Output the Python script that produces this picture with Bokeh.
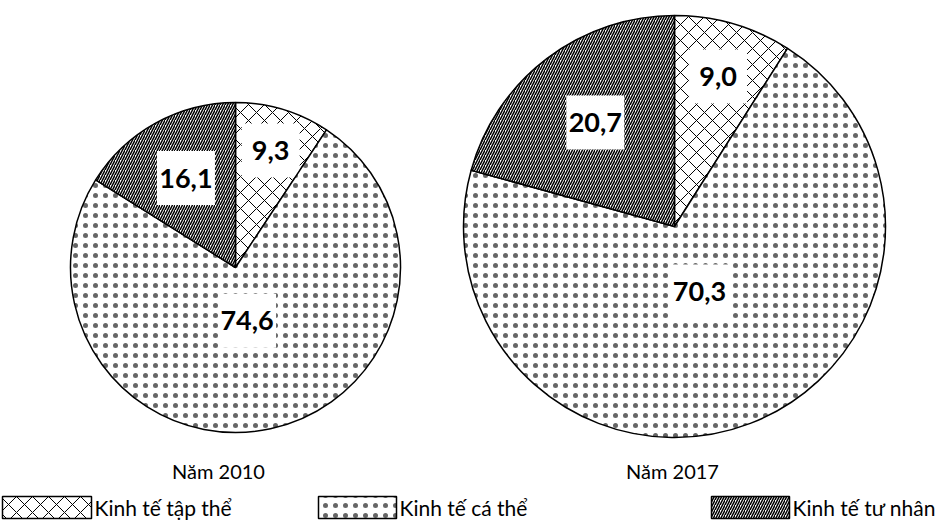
import math
from bokeh.plotting import figure
from bokeh.models import Range1d
from bokeh.core.properties import value
from bokeh.embed import file_html
from bokeh.resources import INLINE

# ---------------- data ----------------
categories = ["Kinh tế tập thể", "Kinh tế cá thể", "Kinh tế tư nhân"]
years = ["Năm 2010", "Năm 2017"]
values_2010 = [9.3, 74.6, 16.1]
values_2017 = [9.0, 70.3, 20.7]

# ---------------- layout / style ----------------
W, H = 941, 529
def fy(Y):  # screenshot pixel Y -> data y
    return H - Y

pies = [
    dict(vals=values_2010, cx=235, cy=267, r=165, title=years[0], tx=218, ty=470),
    dict(vals=values_2017, cx=674, cy=226, r=211, title=years[1], tx=672, ty=470),
]
hatch = [
    dict(hatch_pattern="diagonal_cross", hatch_scale=16, hatch_weight=1.0),
    dict(hatch_pattern="dot", hatch_scale=10, hatch_weight=1.0, hatch_alpha=0.6),
    dict(hatch_pattern="right_diagonal_line", hatch_scale=5, hatch_weight=1.5),
]
label_r = [0.74, 0.33, 0.62]
box_w, box_h = 58, 54
FONT = value("Lato")

p = figure(width=W, height=H, output_backend="svg", toolbar_location=None,
           x_range=Range1d(0, W), y_range=Range1d(0, H),
           min_border=0, outline_line_color=None)
p.axis.visible = False
p.grid.visible = False
p.background_fill_color = "white"

for pie in pies:
    vals = pie["vals"]
    total = sum(vals)
    cum = 0.0
    cx, cy = pie["cx"], fy(pie["cy"])
    for i, v in enumerate(vals):
        a0 = math.pi / 2 - 2 * math.pi * cum / total
        a1 = math.pi / 2 - 2 * math.pi * (cum + v) / total
        p.wedge(x=[cx], y=[cy], radius=pie["r"], start_angle=[a0], end_angle=[a1],
                direction="clock", fill_color="white", line_color="black",
                line_width=1.5, hatch_color="black", **hatch[i])
        mid = (a0 + a1) / 2
        lx = cx + label_r[i] * pie["r"] * math.cos(mid)
        ly = cy + label_r[i] * pie["r"] * math.sin(mid)
        p.rect(x=[lx], y=[ly], width=box_w, height=box_h, fill_color="white", line_color=None)
        p.text(x=[lx], y=[ly], text=[f"{v:.1f}".replace(".", ",")], text_font=FONT,
               text_font_size="27px", text_font_style="bold", text_color="black",
               text_align="center", text_baseline="middle")
        cum += v
    p.text(x=[pie["tx"]], y=[fy(pie["ty"])], text=[pie["title"]], text_font=FONT,
           text_font_size="20px", text_color="black", text_align="center",
           text_baseline="middle")

# legend
leg_x = [2, 318, 711]
sw_w = [89, 78, 78]
leg_y = 507
sw_h = 22
for i, name in enumerate(categories):
    p.rect(x=[leg_x[i] + sw_w[i] / 2], y=[fy(leg_y)], width=sw_w[i], height=sw_h,
           fill_color="white", line_color="black", line_width=1.5,
           hatch_color="black", **hatch[i])
    p.text(x=[leg_x[i] + sw_w[i] + 3], y=[fy(leg_y)], text=[name], text_font=FONT,
           text_font_size="21px", text_color="black", text_align="left",
           text_baseline="middle")

open("out.html", "w").write(file_html(p, INLINE))
